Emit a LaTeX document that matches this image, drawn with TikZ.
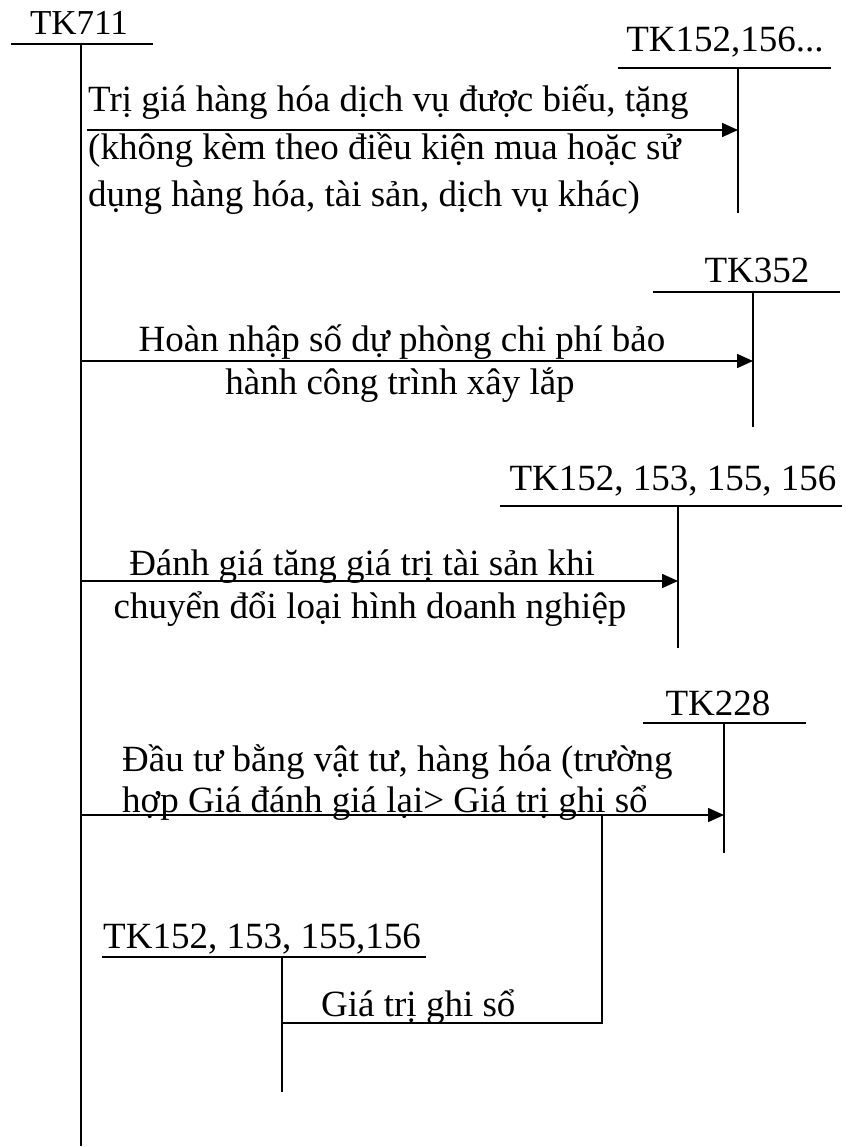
\documentclass[tikz,border=0pt]{standalone}
\usepackage{fontspec}
\setmainfont{Liberation Serif}
\usetikzlibrary{arrows.meta}
\begin{document}
\begin{tikzpicture}[x=1pt,y=-1pt,
  ln/.style={line width=1.6pt},
  arr/.style={line width=1.6pt,-{Triangle[length=16pt,width=14pt]}},
  lbl/.style={inner sep=0pt,anchor=base west,font=\fontsize{37}{40}\selectfont},
  lblc/.style={inner sep=0pt,anchor=base,font=\fontsize{37}{40}\selectfont}]
\useasboundingbox (0,0) rectangle (850,1147);
% TK711
\node[lblc,font=\fontsize{35}{40}\selectfont] (t711) at (79,35) {TK711};
\coordinate (h711L) at (11,44);
\coordinate (h711R) at (153,44);
\coordinate (v711T) at (81,44);
\coordinate (v711B) at (81,1146);
\draw[ln] (h711L) -- (h711R);
\draw[ln] (v711T) -- (v711B);
% TK152,156...
\node[lblc] (t152a) at (725,52) {TK152,156...};
\coordinate (hAL) at (618,68);
\coordinate (hAR) at (831,68);
\coordinate (vAT) at (738,68);
\coordinate (vAB) at (738,213);
\draw[ln] (hAL) -- (hAR);
\draw[ln] (vAT) -- (vAB);
\coordinate (sA) at (87,130);
\draw[arr] (sA) -- (vAT |- sA);
\node[lbl] (lA1) at (88,112) {Trị giá hàng hóa dịch vụ được biếu, tặng};
\node[lbl] (lA2) at (88,160) {(không kèm theo điều kiện mua hoặc sử};
\node[lbl] (lA3) at (88,207) {dụng hàng hóa, tài sản, dịch vụ khác)};
% TK352
\node[lblc] (t352) at (757,283) {TK352};
\coordinate (hBL) at (653,292);
\coordinate (hBR) at (840,292);
\coordinate (vBT) at (753,292);
\coordinate (vBB) at (753,427);
\draw[ln] (hBL) -- (hBR);
\draw[ln] (vBT) -- (vBB);
\coordinate (sB) at (81,361);
\draw[arr] (sB) -- (vBT |- sB);
\node[lblc] (lB1) at (402,351) {Hoàn nhập số dự phòng chi phí bảo};
\node[lblc] (lB2) at (400,394) {hành công trình xây lắp};
% TK152, 153, 155, 156
\node[lblc] (t152b) at (673,490) {TK152, 153, 155, 156};
\coordinate (hCL) at (500,506);
\coordinate (hCR) at (842,506);
\coordinate (vCT) at (678,506);
\coordinate (vCB) at (678,648);
\draw[ln] (hCL) -- (hCR);
\draw[ln] (vCT) -- (vCB);
\coordinate (sC) at (81,581);
\draw[arr] (sC) -- (vCT |- sC);
\node[lblc] (lC1) at (362,575) {Đánh giá tăng giá trị tài sản khi};
\node[lblc] (lC2) at (370,618) {chuyển đổi loại hình doanh nghiệp};
% TK228
\node[lblc] (t228) at (718,715) {TK228};
\coordinate (hDL) at (643,723);
\coordinate (hDR) at (806,723);
\coordinate (vDT) at (724,723);
\coordinate (vDB) at (724,853);
\draw[ln] (hDL) -- (hDR);
\draw[ln] (vDT) -- (vDB);
\coordinate (sD) at (81,815);
\draw[arr] (sD) -- (vDT |- sD);
\node[lbl] (lD1) at (122,771) {Đầu tư bằng vật tư, hàng hóa (trường};
\node[lbl] (lD2) at (122,812) {hợp Giá đánh giá lại> Giá trị ghi sổ};
% TK152, 153, 155,156 (bottom)
\node[lblc] (t152c) at (262,948) {TK152, 153, 155,156};
\coordinate (hEL) at (102,957);
\coordinate (hER) at (426,957);
\coordinate (vET) at (282,957);
\coordinate (vEB) at (282,1092);
\draw[ln] (hEL) -- (hER);
\draw[ln] (vET) -- (vEB);
% Gia tri ghi so connector
\coordinate (kTop) at (602,815);
\coordinate (kBot) at (602,1023);
\draw[ln] (kTop) -- (kBot) -- (vET |- kBot);
\node[lbl] (lE) at (321,1016) {Giá trị ghi sổ};
\end{tikzpicture}
\end{document}
